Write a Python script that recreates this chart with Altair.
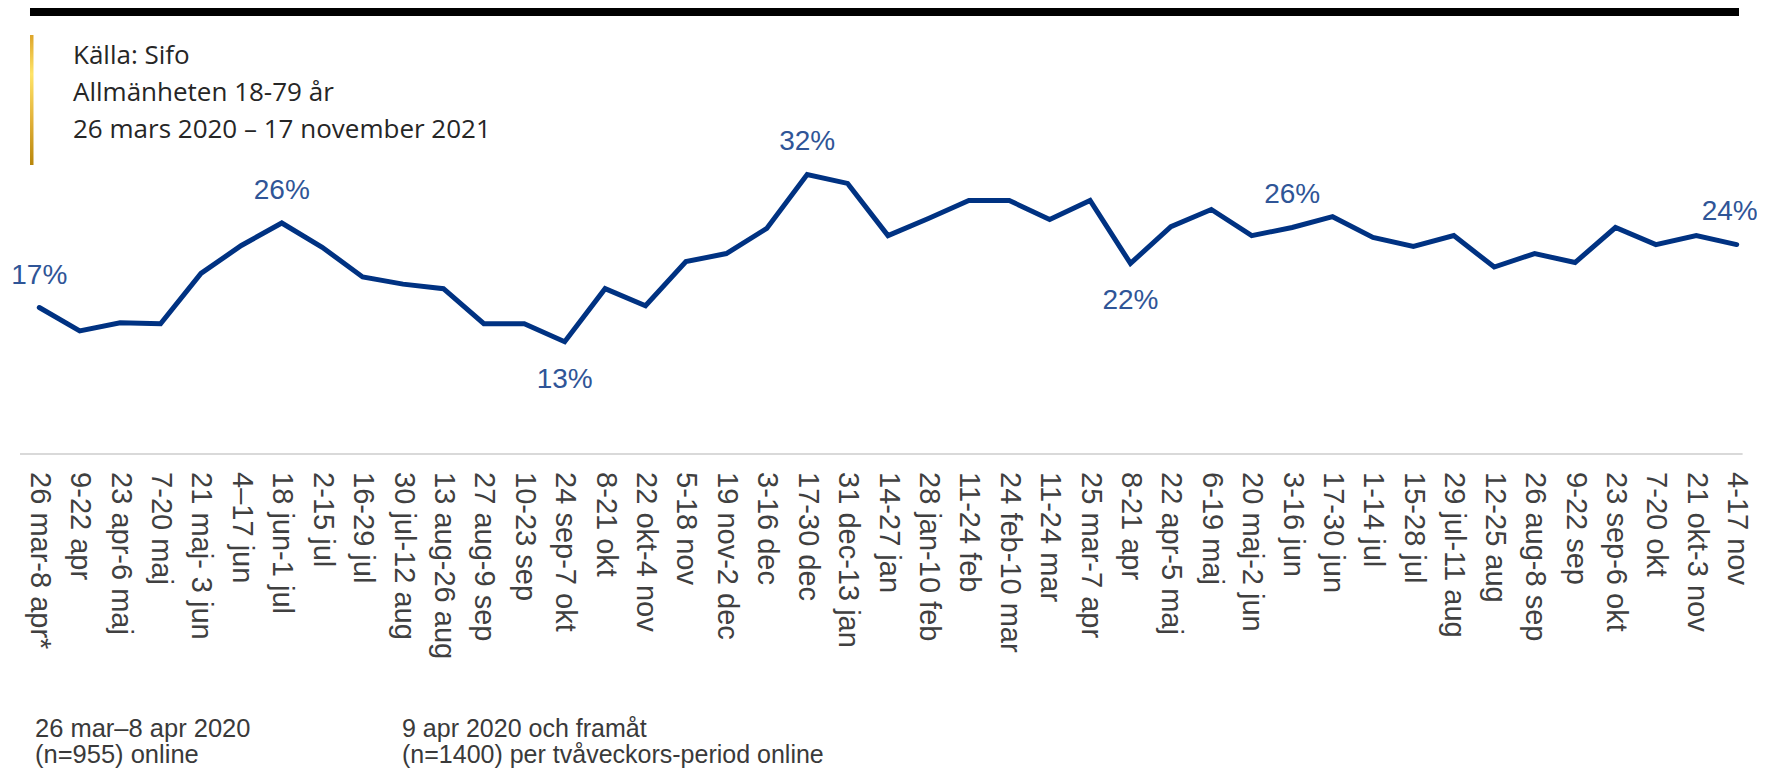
import altair as alt
import pandas as pd

periods = [
    "26 mar-8 apr*", "9-22 apr", "23 apr-6 maj", "7-20 maj", "21 maj- 3 jun",
    "4–17 jun", "18 jun-1 jul", "2-15 jul", "16-29 jul", "30 jul-12 aug",
    "13 aug-26 aug", "27 aug-9 sep", "10-23 sep", "24 sep-7 okt", "8-21 okt",
    "22 okt-4 nov", "5-18 nov", "19 nov-2 dec", "3-16 dec", "17-30 dec",
    "31 dec-13 jan", "14-27 jan", "28 jan-10 feb", "11-24 feb", "24 feb-10 mar",
    "11-24 mar", "25 mar-7 apr", "8-21 apr", "22 apr-5 maj", "6-19 maj",
    "20 maj-2 jun", "3-16 jun", "17-30 jun", "1-14 jul", "15-28 jul",
    "29 jul-11 aug", "12-25 aug", "26 aug-8 sep", "9-22 sep", "23 sep-6 okt",
    "7-20 okt", "21 okt-3 nov", "4-17 nov",
]
values = [
    16.8, 14.2, 15.1, 15.0, 20.6, 23.7, 26.2, 23.5, 20.2, 19.4,
    18.9, 15.0, 15.0, 13.0, 18.9, 17.0, 21.9, 22.8, 25.6, 31.6,
    30.6, 24.8, 26.7, 28.7, 28.7, 26.6, 28.7, 21.7, 25.8, 27.7,
    24.8, 25.7, 26.9, 24.6, 23.6, 24.8, 21.3, 22.8, 21.8, 25.7,
    23.8, 24.8, 23.8,
]
labels_above = [0, 6, 19, 31]
labels_last = [42]
labels_below = [13, 27]

header_lines = ["Källa: Sifo", "Allmänheten 18-79 år", "26 mars 2020 – 17 november 2021"]
note_left = ["26 mar–8 apr 2020", "(n=955) online"]
note_right = ["9 apr 2020 och framåt", "(n=1400) per tvåveckors-period online"]

df = pd.DataFrame({"period": periods, "value": values})
df["idx"] = list(range(len(df)))


def pos_of(i):
    if i in labels_above:
        return "above"
    if i in labels_last:
        return "last"
    if i in labels_below:
        return "below"
    return "none"


df["pos"] = [pos_of(i) for i in df["idx"]]

W, H = 1697.4, 359.7
LEFT, TOP = 31.3, 90.9
TOTAL_W, TOTAL_H = 1749, 763

LINE_COLOR = "#003282"
LABEL_COLOR = "#2F5597"
TEXT_COLOR = "#3A3A3A"

x_enc = alt.X(
    "period:N", sort=None,
    scale=alt.Scale(type="point", padding=0),
    axis=alt.Axis(title=None, labelAngle=90, domain=False, ticks=False, grid=False,
                  labelPadding=13, labelFont="Liberation Sans", labelFontSize=29,
                  labelColor="#404040", labelOverlap=False, labelLimit=400),
)
y_enc = alt.Y("value:Q", scale=alt.Scale(domain=[0, 40], nice=False, zero=True), axis=None)

base = alt.Chart(df)

line = base.mark_line(color=LINE_COLOR, strokeWidth=5, strokeCap="round").encode(x=x_enc, y=y_enc)


def value_labels(which, dy, dx=0):
    return base.transform_filter(alt.datum.pos == which).transform_calculate(
        lab="format(datum.value, '.0f') + '%'"
    ).mark_text(dy=dy, dx=dx, baseline="alphabetic", align="center", font="Liberation Sans",
                fontSize=28, color=LABEL_COLOR).encode(x=x_enc, y=y_enc, text="lab:N")


lab_above = value_labels("above", -24)
lab_last = value_labels("last", -25, -7)
lab_below = value_labels("below", 46)

one = alt.Chart(pd.DataFrame({"k": [0]}))

top_bar = one.mark_rect(color="#000000").encode(
    x=alt.value(-9.3), x2=alt.value(1699.7), y=alt.value(-91.2), y2=alt.value(-82.8))

gold_bar = one.mark_rect(
    fill=alt.Gradient(gradient="linear", x1=0, x2=0, y1=0, y2=1,
                      stops=[alt.GradientStop(offset=0, color="#DDA52A"),
                             alt.GradientStop(offset=0.3, color="#FFE468"),
                             alt.GradientStop(offset=0.65, color="#E2B23A"),
                             alt.GradientStop(offset=1, color="#B8860B")])
).encode(x=alt.value(-9.3), x2=alt.value(-5.8), y=alt.value(-63.9), y2=alt.value(66.1))

header = one.mark_text(align="left", baseline="alphabetic", font="Open Sans", fontSize=26,
                       color="#262626", lineHeight=37).encode(
    x=alt.value(33.7), y=alt.value(-35.0), text=alt.value(header_lines))

axis_line = one.mark_rule(color="#D9D9D9", strokeWidth=2).encode(
    x=alt.value(-19.3), x2=alt.value(1703.3), y=alt.value(355.1))

note1 = one.mark_text(align="left", baseline="alphabetic", font="Liberation Sans", fontSize=25.5,
                      color=TEXT_COLOR, lineHeight=26).encode(
    x=alt.value(-4.3), y=alt.value(638.5), text=alt.value(note_left))
note2 = one.mark_text(align="left", baseline="alphabetic", font="Liberation Sans", fontSize=25,
                      color=TEXT_COLOR, lineHeight=26).encode(
    x=alt.value(362.7), y=alt.value(638.5), text=alt.value(note_right))

chart = alt.layer(
    top_bar, gold_bar, header, axis_line, line, lab_above, lab_last, lab_below, note1, note2
).properties(
    width=W, height=H, autosize="none",
    padding={"left": LEFT, "top": TOP, "right": TOTAL_W - LEFT - W, "bottom": TOTAL_H - TOP - H},
).configure_view(stroke=None)

chart.save("out.html", embed_options={"renderer": "svg", "actions": False})
